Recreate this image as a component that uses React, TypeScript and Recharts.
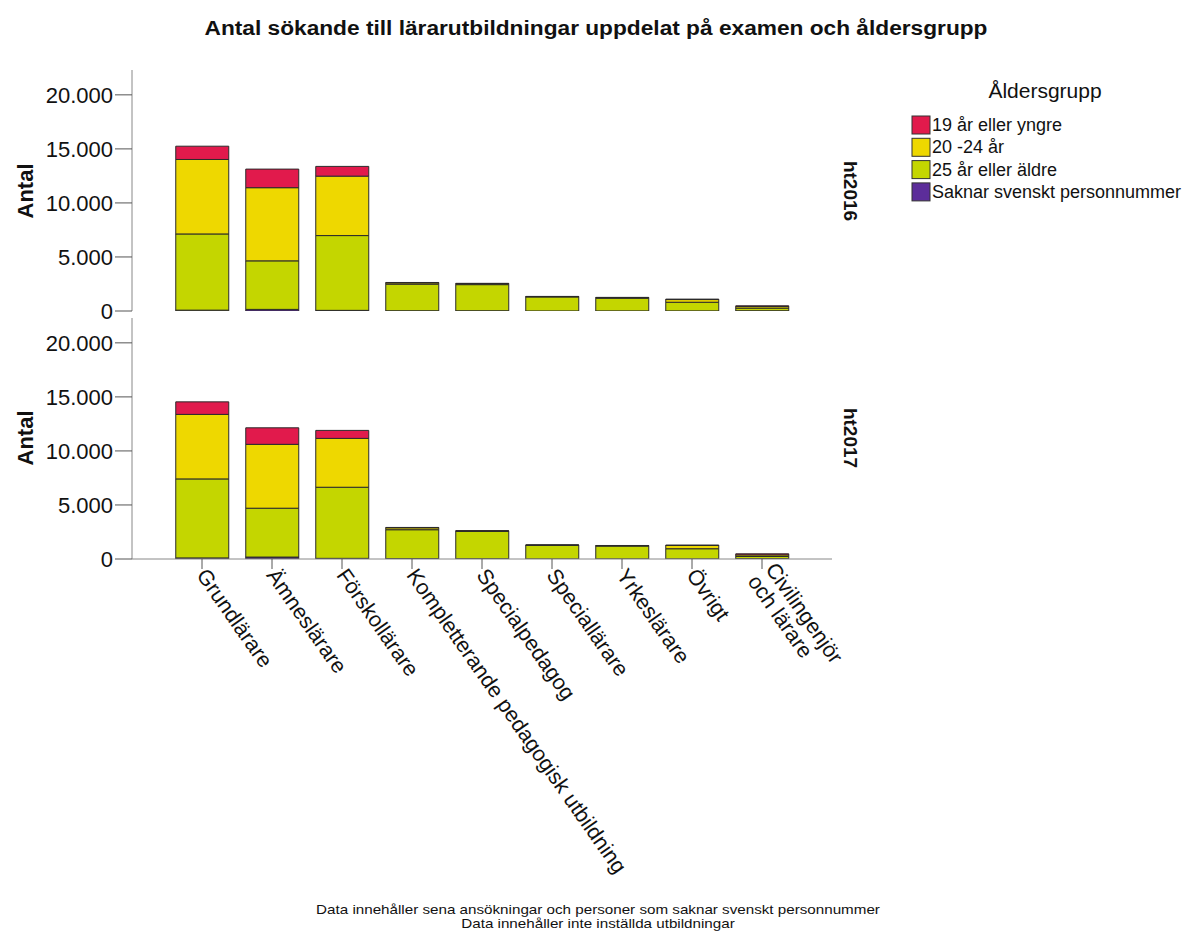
import React from 'react';
import { BarChart, Bar, XAxis, YAxis } from 'recharts';

const FONT = '"Liberation Sans", Arial, Helvetica, sans-serif';

const categories = [
  'Grundlärare',
  'Ämneslärare',
  'Förskollärare',
  'Kompletterande pedagogisk utbildning',
  'Specialpedagog',
  'Speciallärare',
  'Yrkeslärare',
  'Övrigt',
  'Civilingenjör\noch lärare',
];

// ht2016
const young2016 = [1230, 1720, 900, 40, 30, 15, 20, 40, 60];
const mid2016 = [6890, 6770, 5500, 120, 90, 30, 60, 250, 150];
const old2016 = [7050, 4490, 6920, 2460, 2420, 1300, 1170, 800, 250];
const none2016 = [80, 150, 60, 20, 20, 5, 10, 10, 20];

// ht2017
const young2017 = [1160, 1530, 740, 30, 10, 5, 10, 40, 100];
const mid2017 = [5970, 5910, 4520, 180, 40, 10, 40, 300, 150];
const old2017 = [7310, 4520, 6580, 2680, 2540, 1270, 1190, 940, 200];
const none2017 = [100, 180, 60, 30, 20, 5, 10, 10, 30];

const yTicks = [0, 5000, 10000, 15000, 20000];
const yDomain = [0, 22300];

const seriesKeys = ['none', 'old', 'mid', 'young'];
const seriesNames = ['Saknar svenskt personnummer', '25 år eller äldre', '20 -24 år', '19 år eller yngre'];
const seriesColors = ['#5c2d9a', '#c4d600', '#eed800', '#e11a4c'];

const legendOrder = [3, 2, 1, 0];

const buildData = (young: number[], mid: number[], old: number[], none: number[]) =>
  categories.map((cat, i) => ({ cat, young: young[i], mid: mid[i], old: old[i], none: none[i] }));

const data2016 = buildData(young2016, mid2016, old2016, none2016);
const data2017 = buildData(young2017, mid2017, old2017, none2017);

const fmt = (v: number) => String(v).replace(/\B(?=(\d{3})+(?!\d))/g, '.');

const XTick = (props: any) => {
  const { x, y, payload } = props;
  const lines = String(payload.value).split('\n');
  const n = lines.length;
  return (
    <g transform={`translate(${x},${y})`}>
      <text
        transform="rotate(55)"
        textAnchor="start"
        fontSize={21.5}
        fontFamily={FONT}
        fill="#111"
      >
        {lines.map((l, i) => (
          <tspan key={i} x={0} dy={i === 0 ? `${0.35 - (n - 1) * 0.5}em` : '1.0em'}>
            {l}
          </tspan>
        ))}
      </text>
    </g>
  );
};

const renderBars = () =>
  seriesKeys.map((k, i) => (
    <Bar
      key={k}
      dataKey={k}
      name={seriesNames[i]}
      stackId="a"
      fill={seriesColors[i]}
      stroke="#2b2b2b"
      strokeWidth={1}
      isAnimationActive={false}
    />
  ));

const yAxisProps = {
  width: 132,
  domain: yDomain,
  ticks: yTicks,
  interval: 0 as const,
  tickSize: 17,
  tickLine: { stroke: '#555' },
  axisLine: { stroke: '#888' },
  tick: { fontSize: 22, fill: '#111', fontFamily: FONT },
  tickFormatter: fmt,
  allowDataOverflow: true,
};

export default function App() {
  return (
    <div
      style={{
        position: 'absolute',
        left: 0,
        top: 0,
        width: 1186,
        height: 932,
        background: '#fff',
        fontFamily: FONT,
        overflow: 'hidden',
      }}
    >
      <div style={{ position: 'absolute', left: 0, top: 0 }}>
        <BarChart
          width={880}
          height={330}
          data={data2016}
          margin={{ top: 70, right: 48, left: 0, bottom: 19 }}
          barCategoryGap="12.5%"
        >
          <XAxis
            dataKey="cat"
            height={0}
            tick={false}
            tickLine={false}
            axisLine={{ stroke: '#888' }}
            padding={{ left: 35, right: 35 }}
          />
          <YAxis {...yAxisProps} />
          {renderBars()}
        </BarChart>
      </div>
      <div style={{ position: 'absolute', left: 0, top: 300 }}>
        <BarChart
          width={880}
          height={599}
          data={data2017}
          margin={{ top: 18, right: 48, left: 0, bottom: 0 }}
          barCategoryGap="12.5%"
        >
          <XAxis
            dataKey="cat"
            height={340}
            interval={0}
            tickSize={10}
            tickLine={{ stroke: '#555' }}
            axisLine={{ stroke: '#888' }}
            padding={{ left: 35, right: 35 }}
            tick={<XTick />}
          />
          <YAxis {...yAxisProps} />
          {renderBars()}
        </BarChart>
      </div>
      <svg
        width={1186}
        height={932}
        style={{ position: 'absolute', left: 0, top: 0, pointerEvents: 'none' }}
        fontFamily={FONT}
      >
        <text
          x={596}
          y={35}
          textAnchor="middle"
          fontSize={20}
          fontWeight="bold"
          fill="#111"
          textLength={783}
          lengthAdjust="spacingAndGlyphs"
        >
          Antal sökande till lärarutbildningar uppdelat på examen och åldersgrupp
        </text>
        <text transform="translate(25,191) rotate(-90)" textAnchor="middle" dominantBaseline="central" fontSize={22} fontWeight="bold" fill="#111">
          Antal
        </text>
        <text transform="translate(25,438) rotate(-90)" textAnchor="middle" dominantBaseline="central" fontSize={22} fontWeight="bold" fill="#111">
          Antal
        </text>
        <text transform="translate(850,191) rotate(90)" textAnchor="middle" dominantBaseline="central" fontSize={19} fontWeight="bold" fill="#111">
          ht2016
        </text>
        <text transform="translate(850,438) rotate(90)" textAnchor="middle" dominantBaseline="central" fontSize={19} fontWeight="bold" fill="#111">
          ht2017
        </text>
        <text x={1045} y={98} textAnchor="middle" fontSize={21} fill="#111">
          Åldersgrupp
        </text>
        {legendOrder.map((si, row) => {
          const top = 116 + row * 22.3;
          return (
            <g key={si}>
              <rect x={912} y={top} width={18} height={18} fill={seriesColors[si]} stroke="#333" strokeWidth={1} />
              <text x={932} y={top + 9} dominantBaseline="central" fontSize={18} fill="#111">
                {seriesNames[si]}
              </text>
            </g>
          );
        })}
        <g transform="translate(598,0) scale(1.17,1)">
          <text x={0} y={914} textAnchor="middle" fontSize={13} fill="#111">
            Data innehåller sena ansökningar och personer som saknar svenskt personnummer
          </text>
          <text x={0} y={928} textAnchor="middle" fontSize={13} fill="#111">
            Data innehåller inte inställda utbildningar
          </text>
        </g>
      </svg>
    </div>
  );
}
